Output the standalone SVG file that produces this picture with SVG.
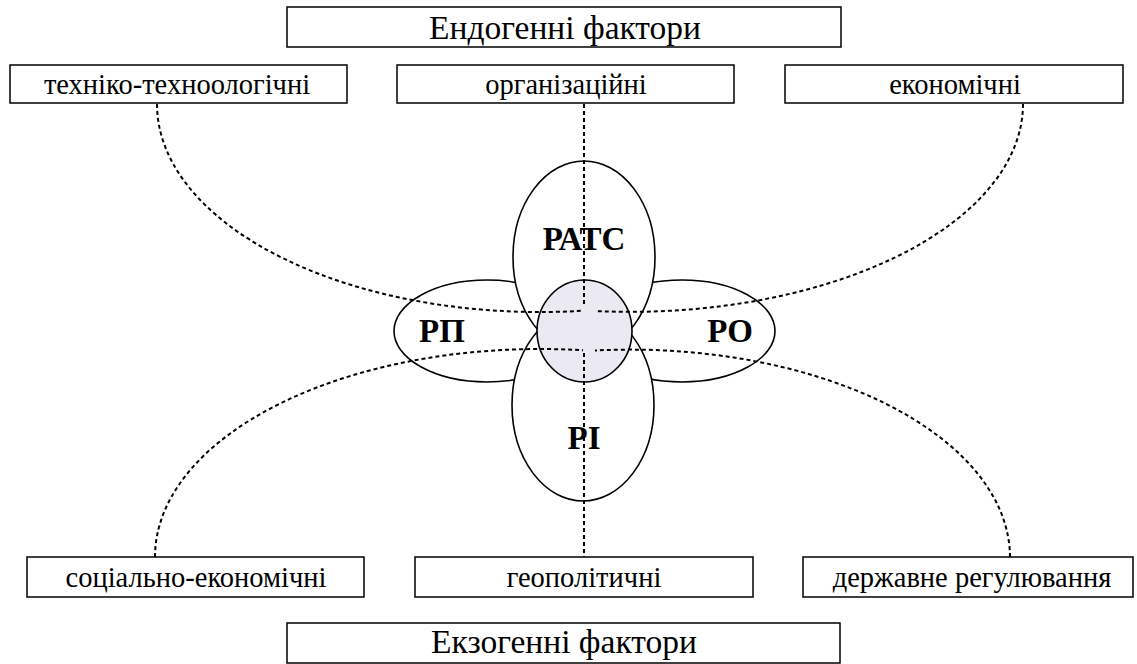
<svg xmlns="http://www.w3.org/2000/svg" width="1137" height="664" viewBox="0 0 1137 664">
<style>
.box{fill:#fff;stroke:#000;stroke-width:1.5}
.ell{fill:#fff;stroke:#000;stroke-width:1.6}
.core{fill:#ebe9f1;stroke:#000;stroke-width:1.6}
.dash{fill:none;stroke:#000;stroke-width:2;stroke-dasharray:4 3}
text{font-family:'Liberation Serif','Times New Roman',serif;fill:#000;text-anchor:middle}
.big{font-size:33.5px}
.mid{font-size:28.5px}
.lab{font-size:33px;font-weight:bold}
</style>
<rect width="1137" height="664" fill="#fff"/>
<g id="endo">
<rect class="box" x="287" y="7" width="554" height="40"/>
<text class="big" x="565" y="39">Ендогенні фактори</text>
</g>
<g id="tech">
<rect class="box" x="10" y="65" width="337" height="38"/>
<text class="mid" x="177" y="94">техніко-техноологічні</text>
</g>
<g id="org">
<rect class="box" x="397" y="65" width="337" height="38"/>
<text class="mid" x="566" y="94">організаційні</text>
</g>
<g id="econ">
<rect class="box" x="785" y="65" width="338" height="38"/>
<text class="mid" x="955" y="94">економічні</text>
</g>
<g id="socec">
<rect class="box" x="27" y="557" width="337" height="40"/>
<text class="mid" x="196" y="587">соціально-економічні</text>
</g>
<g id="geo">
<rect class="box" x="415" y="557" width="338" height="40"/>
<text class="mid" x="584" y="587">геополітичні</text>
</g>
<g id="state">
<rect class="box" x="803" y="557" width="330" height="40"/>
<text class="mid" x="972" y="587">державне регулювання</text>
</g>
<g id="exo">
<rect class="box" x="287" y="623" width="553" height="40"/>
<text class="big" x="564" y="653">Екзогенні фактори</text>
</g>
<g id="rp">
<ellipse class="ell" cx="487" cy="331" rx="93" ry="51"/>
</g>
<g id="ro">
<ellipse class="ell" cx="682" cy="331" rx="93" ry="51"/>
</g>
<g id="rats">
<ellipse class="ell" cx="584" cy="257" rx="71" ry="96"/>
</g>
<g id="ri">
<ellipse class="ell" cx="583" cy="405" rx="71" ry="96"/>
</g>
<g id="core">
<ellipse class="core" cx="584.5" cy="331" rx="47.5" ry="51"/>
</g>
<g id="labels">
<text class="lab" x="584" y="250">РАТС</text>
<text class="lab" x="442" y="342">РП</text>
<text class="lab" x="730" y="342">РО</text>
<text class="lab" x="584" y="449">РІ</text>
</g>
<g id="connectors">
<path class="dash" d="M157,104 A383,208 0 0 0 583,310.7"/>
<path class="dash" d="M1023,104 A393,208 0 0 1 595,311"/>
<path class="dash" d="M155,557 A385,208 0 0 1 583,350.3"/>
<path class="dash" d="M1010,557 A380,208 0 0 0 595,350.5"/>
<line class="dash" x1="584" y1="104" x2="584" y2="306"/>
<line class="dash" x1="584" y1="353" x2="584" y2="557"/>
</g>
</svg>
